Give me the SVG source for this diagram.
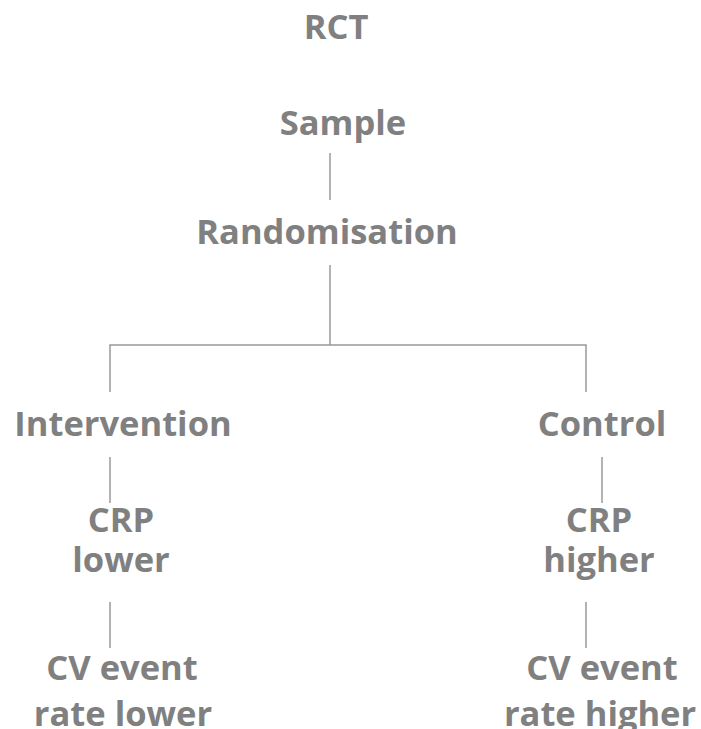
<svg xmlns="http://www.w3.org/2000/svg" width="701" height="729" viewBox="0 0 701 729">
<style>
text{font-family:"Open Sans","DejaVu Sans",sans-serif;font-weight:bold;font-size:34.5px;fill:#808080;text-anchor:middle}
.c{stroke:#999;stroke-width:1.5;fill:none}
</style>
<rect width="701" height="729" fill="#fff"/>
<g id="connectors">
<line class="c" x1="330" y1="153" x2="330" y2="200"/>
<line class="c" x1="330" y1="265" x2="330" y2="345"/>
<polyline class="c" points="110,392 110,345 586,345 586,392"/>
<line class="c" x1="110" y1="457" x2="110" y2="503"/>
<line class="c" x1="602" y1="457" x2="602" y2="503"/>
<line class="c" x1="110" y1="602" x2="110" y2="648"/>
<line class="c" x1="586" y1="602" x2="586" y2="648"/>
</g>
<g id="rct"><text x="336" y="39">RCT</text></g>
<g id="sample"><text x="343" y="135">Sample</text></g>
<g id="randomisation"><text x="327" y="244">Randomisation</text></g>
<g id="intervention"><text x="123" y="436">Intervention</text></g>
<g id="control"><text x="602" y="436">Control</text></g>
<g id="crp-lower"><text x="121" y="532">CRP</text><text x="121" y="572">lower</text></g>
<g id="crp-higher"><text x="599" y="532">CRP</text><text x="599" y="572">higher</text></g>
<g id="cv-lower"><text x="122" y="680">CV event</text><text x="123" y="726">rate lower</text></g>
<g id="cv-higher"><text x="602" y="680">CV event</text><text x="600" y="726">rate higher</text></g>
</svg>
